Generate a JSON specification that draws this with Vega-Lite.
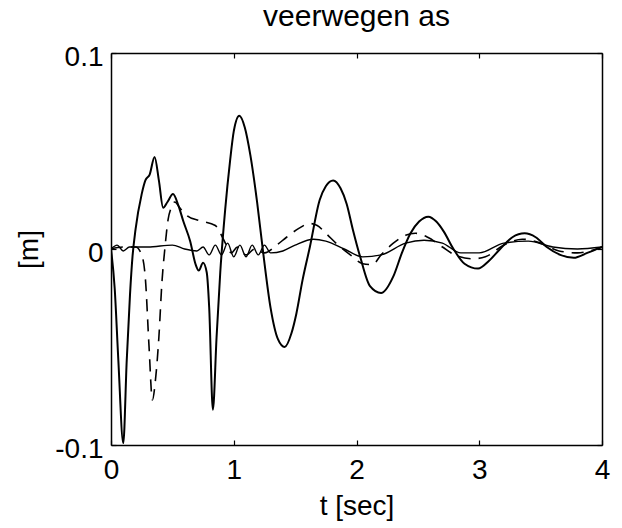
{
  "$schema": "https://vega.github.io/schema/vega-lite/v6.json",
  "width": 491,
  "height": 392,
  "autosize": {"type": "none"},
  "padding": {"left": 111, "top": 53, "right": 20, "bottom": 83},
  "background": "white",
  "title": {
    "text": "veerwegen as",
    "font": "Liberation Sans",
    "fontSize": 30,
    "fontWeight": "normal",
    "color": "black",
    "anchor": "middle",
    "frame": "group",
    "baseline": "alphabetic",
    "offset": -13
  },
  "datasets": {
    "main": [
      {"t": 0, "v": 0}, {"t": 0.03, "v": -0.02}, {"t": 0.06, "v": -0.057}, {"t": 0.1, "v": -0.099},
      {"t": 0.128, "v": -0.057}, {"t": 0.155, "v": -0.023}, {"t": 0.175, "v": -0.004}, {"t": 0.2, "v": 0.01},
      {"t": 0.25, "v": 0.028}, {"t": 0.28, "v": 0.035}, {"t": 0.315, "v": 0.038}, {"t": 0.355, "v": 0.047},
      {"t": 0.39, "v": 0.035}, {"t": 0.425, "v": 0.021}, {"t": 0.46, "v": 0.024}, {"t": 0.505, "v": 0.028},
      {"t": 0.55, "v": 0.022}, {"t": 0.59, "v": 0.014}, {"t": 0.645, "v": 0.004}, {"t": 0.69, "v": -0.008},
      {"t": 0.715, "v": -0.011}, {"t": 0.75, "v": -0.007}, {"t": 0.78, "v": -0.012}, {"t": 0.8, "v": -0.03},
      {"t": 0.83, "v": -0.082}, {"t": 0.86, "v": -0.045}, {"t": 0.89, "v": -0.012}, {"t": 0.93, "v": 0.02},
      {"t": 0.97, "v": 0.045}, {"t": 1.0, "v": 0.06}, {"t": 1.045, "v": 0.068}, {"t": 1.09, "v": 0.062},
      {"t": 1.135, "v": 0.048}, {"t": 1.19, "v": 0.024}, {"t": 1.24, "v": -0.002}, {"t": 1.3, "v": -0.03},
      {"t": 1.36, "v": -0.046}, {"t": 1.415, "v": -0.05}, {"t": 1.47, "v": -0.043}, {"t": 1.51, "v": -0.033},
      {"t": 1.56, "v": -0.016}, {"t": 1.62, "v": 0.001}, {"t": 1.7, "v": 0.025}, {"t": 1.75, "v": 0.032},
      {"t": 1.81, "v": 0.035}, {"t": 1.87, "v": 0.031}, {"t": 1.92, "v": 0.023}, {"t": 1.97, "v": 0.01},
      {"t": 2.03, "v": -0.004}, {"t": 2.11, "v": -0.019}, {"t": 2.2, "v": -0.0225}, {"t": 2.3, "v": -0.014},
      {"t": 2.37, "v": -0.002}, {"t": 2.44, "v": 0.008}, {"t": 2.51, "v": 0.014}, {"t": 2.585, "v": 0.0165},
      {"t": 2.65, "v": 0.014}, {"t": 2.71, "v": 0.009}, {"t": 2.79, "v": 0.0}, {"t": 2.88, "v": -0.0075},
      {"t": 2.99, "v": -0.01}, {"t": 3.08, "v": -0.006}, {"t": 3.17, "v": 0.0}, {"t": 3.27, "v": 0.006},
      {"t": 3.37, "v": 0.008}, {"t": 3.46, "v": 0.006}, {"t": 3.55, "v": 0.001}, {"t": 3.66, "v": -0.003},
      {"t": 3.77, "v": -0.0045}, {"t": 3.88, "v": -0.002}, {"t": 4.0, "v": 0.001}
    ],
    "dashed": [
      {"t": 0, "v": 0}, {"t": 0.1, "v": 0.001}, {"t": 0.2, "v": 0.001}, {"t": 0.25, "v": -0.003},
      {"t": 0.28, "v": -0.015}, {"t": 0.31, "v": -0.05}, {"t": 0.337, "v": -0.077}, {"t": 0.365, "v": -0.065},
      {"t": 0.39, "v": -0.045}, {"t": 0.415, "v": -0.017}, {"t": 0.44, "v": 0.001}, {"t": 0.465, "v": 0.015},
      {"t": 0.49, "v": 0.021}, {"t": 0.52, "v": 0.024}, {"t": 0.56, "v": 0.021}, {"t": 0.62, "v": 0.017},
      {"t": 0.72, "v": 0.0145}, {"t": 0.85, "v": 0.012}, {"t": 0.9, "v": 0.007}, {"t": 0.94, "v": 0.002},
      {"t": 0.98, "v": -0.002}, {"t": 1.03, "v": 0.001}, {"t": 1.1, "v": -0.003}, {"t": 1.17, "v": 0.0},
      {"t": 1.25, "v": -0.002}, {"t": 1.35, "v": 0.002}, {"t": 1.43, "v": 0.006}, {"t": 1.53, "v": 0.0105},
      {"t": 1.62, "v": 0.013}, {"t": 1.68, "v": 0.012}, {"t": 1.75, "v": 0.008}, {"t": 1.85, "v": 0.002},
      {"t": 1.95, "v": -0.003}, {"t": 2.05, "v": -0.0075}, {"t": 2.13, "v": -0.008}, {"t": 2.2, "v": -0.003},
      {"t": 2.3, "v": 0.003}, {"t": 2.4, "v": 0.007}, {"t": 2.48, "v": 0.008}, {"t": 2.58, "v": 0.006},
      {"t": 2.7, "v": 0.001}, {"t": 2.8, "v": -0.003}, {"t": 2.95, "v": -0.005}, {"t": 3.05, "v": -0.004},
      {"t": 3.2, "v": 0.002}, {"t": 3.35, "v": 0.005}, {"t": 3.5, "v": 0.003}, {"t": 3.65, "v": -0.001},
      {"t": 3.8, "v": -0.002}, {"t": 3.9, "v": -0.001}, {"t": 4.0, "v": 0.001}
    ],
    "thin": [
      {"t": 0, "v": 0}, {"t": 0.05, "v": 0.002}, {"t": 0.1, "v": -0.001}, {"t": 0.15, "v": 0.001},
      {"t": 0.3, "v": 0.001}, {"t": 0.5, "v": 0.002}, {"t": 0.6, "v": 0.0}, {"t": 0.7, "v": -0.001},
      {"t": 0.75, "v": 0.001}, {"t": 0.8, "v": -0.003}, {"t": 0.85, "v": 0.002}, {"t": 0.9, "v": -0.003},
      {"t": 0.95, "v": 0.003}, {"t": 1.0, "v": -0.004}, {"t": 1.05, "v": 0.002}, {"t": 1.1, "v": -0.004},
      {"t": 1.15, "v": 0.002}, {"t": 1.2, "v": -0.003}, {"t": 1.25, "v": 0.002}, {"t": 1.3, "v": -0.002},
      {"t": 1.4, "v": -0.001}, {"t": 1.5, "v": 0.002}, {"t": 1.65, "v": 0.005}, {"t": 1.75, "v": 0.004},
      {"t": 1.9, "v": 0.0}, {"t": 2.05, "v": -0.004}, {"t": 2.2, "v": -0.003}, {"t": 2.4, "v": 0.003},
      {"t": 2.55, "v": 0.0045}, {"t": 2.7, "v": 0.003}, {"t": 2.85, "v": -0.002}, {"t": 3.0, "v": -0.002},
      {"t": 3.2, "v": 0.003}, {"t": 3.4, "v": 0.004}, {"t": 3.6, "v": 0.001}, {"t": 3.8, "v": 0.0},
      {"t": 4.0, "v": 0.001}
    ]
  },
  "layer": [
    {
      "data": {"name": "main"},
      "mark": {"type": "line", "color": "black", "strokeWidth": 2, "interpolate": "monotone", "clip": true},
      "encoding": {
        "x": {
          "field": "t", "type": "quantitative",
          "scale": {"domain": [0, 4], "nice": false, "zero": false},
          "axis": {
            "orient": "bottom", "title": "t [sec]", "values": [0, 1, 2, 3, 4],
            "tickSize": -5, "labelPadding": 16, "labelFlush": false, "titlePadding": 8,
            "labelBaseline": "top"
          }
        },
        "y": {
          "field": "v", "type": "quantitative",
          "scale": {"domain": [-0.1, 0.1], "nice": false, "zero": false},
          "axis": {
            "orient": "left", "title": "[m]", "values": [-0.1, 0, 0.1],
            "labelExpr": "toString(datum.value)",
            "tickSize": -5, "labelPadding": 13, "labelOffset": 4, "titlePadding": 11
          }
        }
      }
    },
    {
      "data": {"name": "dashed"},
      "mark": {"type": "line", "color": "black", "strokeWidth": 1.6, "strokeDash": [12, 8], "interpolate": "monotone", "clip": true},
      "encoding": {
        "x": {
          "field": "t", "type": "quantitative",
          "axis": {"orient": "top", "title": null, "labels": false, "values": [0, 1, 2, 3, 4], "tickSize": -5}
        },
        "y": {
          "field": "v", "type": "quantitative",
          "axis": {"orient": "right", "title": null, "labels": false, "values": [-0.1, 0, 0.1], "tickSize": -5}
        }
      }
    },
    {
      "data": {"name": "thin"},
      "mark": {"type": "line", "color": "black", "strokeWidth": 1.4, "interpolate": "monotone", "clip": true},
      "encoding": {
        "x": {"field": "t", "type": "quantitative", "axis": null},
        "y": {"field": "v", "type": "quantitative", "axis": null}
      }
    }
  ],
  "resolve": {"axis": {"x": "independent", "y": "independent"}},
  "config": {
    "view": {"stroke": null},
    "axis": {
      "grid": false,
      "domainColor": "black",
      "domainWidth": 1.5,
      "tickColor": "black",
      "tickWidth": 1.2,
      "labelColor": "black",
      "titleColor": "black",
      "labelFont": "Liberation Sans",
      "titleFont": "Liberation Sans",
      "labelFontSize": 28,
      "titleFontSize": 28,
      "titleFontWeight": "normal"
    }
  }
}
